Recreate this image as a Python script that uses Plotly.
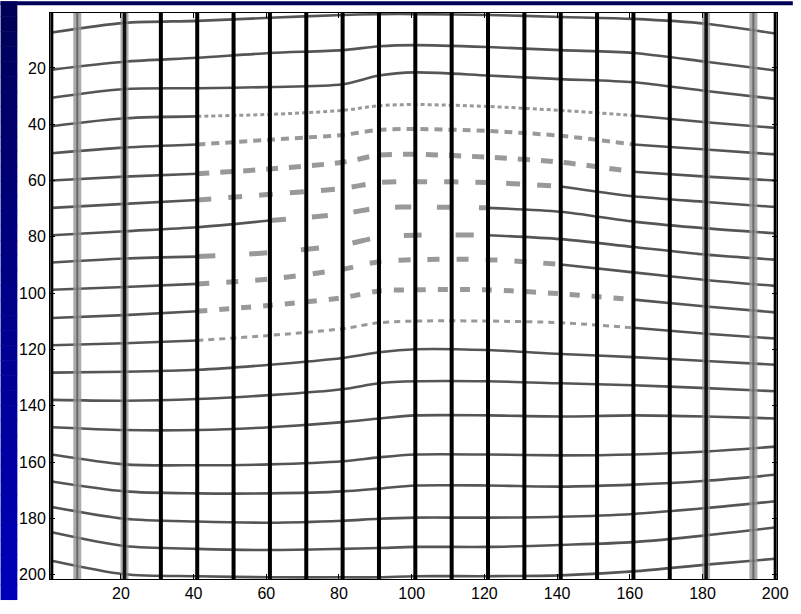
import plotly.graph_objects as go

# Image grid: 200 columns x 201 rows, row 1 at the top
n_cols = 200
n_rows = 201

# Vertical grid lines (column positions)
black_cols = [31, 41, 51, 61, 71, 81, 91, 101, 111, 121, 131, 141, 151, 161, 171]
halo_cols = [21, 181]
gray_cols = [8, 194]

# Horizontal grid lines: row position of each line sampled at these columns
sample_cols = [1, 21, 41, 61, 81, 91, 101, 121, 141, 161, 181, 200]
h_lines = [
    [7.4, 4.0, 3.3, 2.2, 1.2, 0.9, 0.9, 1.2, 1.9, 2.6, 4.3, 7.8],
    [20.6, 17.8, 16.4, 14.7, 13.7, 12.3, 11.9, 12.6, 13.7, 14.7, 17.8, 20.9],
    [30.6, 27.5, 27.2, 26.8, 25.8, 22.7, 21.6, 22.7, 24.0, 25.1, 28.2, 31.0],
    [40.7, 37.9, 37.2, 36.5, 35.1, 33.4, 33.0, 33.7, 35.1, 36.9, 39.3, 41.3],
    [50.3, 48.3, 47.2, 45.5, 43.8, 42.0, 41.7, 42.4, 44.1, 47.2, 49.0, 50.7],
    [60.0, 58.6, 57.6, 55.9, 53.5, 51.0, 50.7, 51.7, 53.5, 56.9, 58.6, 60.0],
    [69.7, 68.3, 66.9, 64.9, 62.8, 60.7, 60.4, 60.7, 62.1, 65.6, 67.6, 69.4],
    [79.4, 78.0, 76.6, 74.2, 71.8, 69.7, 69.4, 69.7, 71.1, 74.6, 77.0, 78.7],
    [89.1, 87.7, 87.0, 85.6, 82.9, 80.1, 79.4, 79.4, 80.8, 83.6, 86.3, 88.1],
    [98.8, 97.8, 96.7, 95.0, 91.5, 88.8, 88.1, 88.1, 89.8, 92.6, 95.3, 97.4],
    [108.8, 107.8, 106.4, 104.3, 101.6, 99.2, 98.8, 98.8, 100.2, 102.3, 104.7, 106.8],
    [118.5, 117.8, 116.8, 115.0, 112.6, 110.5, 109.9, 109.9, 110.5, 112.3, 114.4, 116.1],
    [128.2, 127.9, 127.2, 125.4, 123.0, 121.0, 119.9, 120.2, 121.6, 122.7, 124.1, 125.4],
    [137.9, 138.2, 137.6, 136.2, 134.1, 132.0, 131.3, 131.3, 132.0, 132.7, 133.7, 134.8],
    [147.6, 148.6, 148.6, 147.6, 145.8, 144.5, 143.4, 143.4, 143.8, 143.4, 143.8, 144.5],
    [157.3, 160.8, 161.1, 160.8, 159.7, 158.3, 157.3, 157.3, 157.6, 157.3, 156.2, 154.5],
    [166.9, 170.4, 171.1, 171.1, 170.4, 169.4, 168.3, 168.3, 168.7, 168.0, 166.6, 164.5],
    [175.9, 180.1, 181.1, 181.5, 180.8, 180.1, 179.7, 179.7, 179.4, 178.4, 176.3, 173.9],
    [184.9, 189.8, 190.8, 191.2, 190.8, 190.5, 190.1, 190.1, 189.4, 188.4, 186.0, 183.2],
    [195.0, 199.8, 200.5, 200.9, 200.9, 200.9, 200.5, 200.5, 200.2, 198.8, 196.4, 194.3],
]

# Broken (blurred, blobby) stretch of some lines in the middle of the image:
# line index -> (first column, last column, dash pattern, stroke width)
broken = {
    3: (41, 161, "4px,3px", 3),
    4: (41, 161, "8px,6px", 4),
    5: (41, 161, "12px,11px", 5),
    6: (41, 141, "14px,17px", 5),
    7: (61, 121, "16px,26px", 5),
    8: (41, 121, "18px,34px", 5),
    9: (41, 141, "12px,17px", 5),
    10: (41, 161, "10px,12px", 5),
    11: (41, 161, "6px,5px", 3),
}

x_ticks = [20, 40, 60, 80, 100, 120, 140, 160, 180, 200]
y_ticks = [20, 40, 60, 80, 100, 120, 140, 160, 180, 200]

W, H = 801, 614
ML, MR, MT, MB = 50, 16, 12, 21
pw, ph = W - ML - MR, H - MT - MB

line_gray = "rgba(55,55,55,0.85)"
blob_gray = "rgba(70,70,70,0.55)"

fig = go.Figure()


def add_curve(xs, ys, color, width, dash="solid"):
    fig.add_trace(go.Scatter(
        x=xs, y=ys, mode="lines",
        line=dict(color=color, width=width, dash=dash, shape="spline", smoothing=0.8),
        hoverinfo="skip", showlegend=False))


# horizontal grid lines
for i, row_vals in enumerate(h_lines):
    if i not in broken:
        add_curve(sample_cols, row_vals, line_gray, 2.6)
        continue
    c0, c1, dash, w = broken[i]
    left = [(c, r) for c, r in zip(sample_cols, row_vals) if c <= c0]
    mid = [(c, r) for c, r in zip(sample_cols, row_vals) if c0 <= c <= c1]
    right = [(c, r) for c, r in zip(sample_cols, row_vals) if c >= c1]
    for part in (left, right):
        add_curve([p[0] for p in part], [p[1] for p in part], line_gray, 2.6)
    add_curve([p[0] for p in mid], [p[1] for p in mid], blob_gray, w, dash)

full = [0.5, n_rows + 0.5]

# wide gray columns near the edges
for c in gray_cols:
    add_curve([c, c], full, "rgba(150,150,150,0.8)", 8)
    add_curve([c, c], full, "rgba(90,90,90,0.8)", 2)

# dark columns with a gray halo
for c in halo_cols:
    add_curve([c, c], full, "rgba(140,140,140,0.7)", 8)
    add_curve([c, c], full, "#111111", 3.5)

# solid black columns
for c in black_cols:
    add_curve([c, c], full, "#000000", 4)

# outermost image columns
for c in [1, n_cols]:
    add_curve([c, c], full, "#000000", 3)

# slide background: blue strips along the left and top edges, shaded top to bottom
shapes = []
n_bands = 40
top_rgb = (0, 0, 88)
bot_rgb = (0, 0, 186)
for k in range(n_bands):
    t = k / (n_bands - 1)
    col = "rgb({},{},{})".format(*[round(a + (b - a) * t) for a, b in zip(top_rgb, bot_rgb)])
    y0_px = H * k / n_bands
    y1_px = H * (k + 1) / n_bands + 0.6
    shapes.append(dict(type="rect", xref="paper", yref="paper", layer="below",
                       x0=-ML / pw, x1=(17 - ML) / pw,
                       y0=1 - (y1_px - MT) / ph, y1=1 - (y0_px - MT) / ph,
                       fillcolor=col, line=dict(width=0)))
shapes.append(dict(type="rect", xref="paper", yref="paper", layer="below",
                   x0=-ML / pw, x1=(W - ML) / pw, y0=1 - (4 - MT) / ph, y1=1 + MT / ph,
                   fillcolor="rgb(0,0,88)", line=dict(width=0)))

fig.update_layout(
    width=W, height=H,
    margin=dict(l=ML, r=MR, t=MT, b=MB, pad=0),
    paper_bgcolor="#ffffff", plot_bgcolor="#ffffff",
    font=dict(family="Liberation Sans, Arial, sans-serif", size=16, color="#000000"),
    shapes=shapes,
    xaxis=dict(range=[0.5, n_cols + 0.5], tickvals=x_ticks, ticks="inside", ticklen=5,
               tickcolor="#000", showline=True, linecolor="#000", linewidth=1, mirror="ticks",
               showgrid=False, zeroline=False),
    yaxis=dict(range=[n_rows + 0.5, 0.5], tickvals=y_ticks, ticks="inside", ticklen=5,
               tickcolor="#000", showline=True, linecolor="#000", linewidth=1, mirror="ticks",
               showgrid=False, zeroline=False),
)

fig.write_html("out.html")
